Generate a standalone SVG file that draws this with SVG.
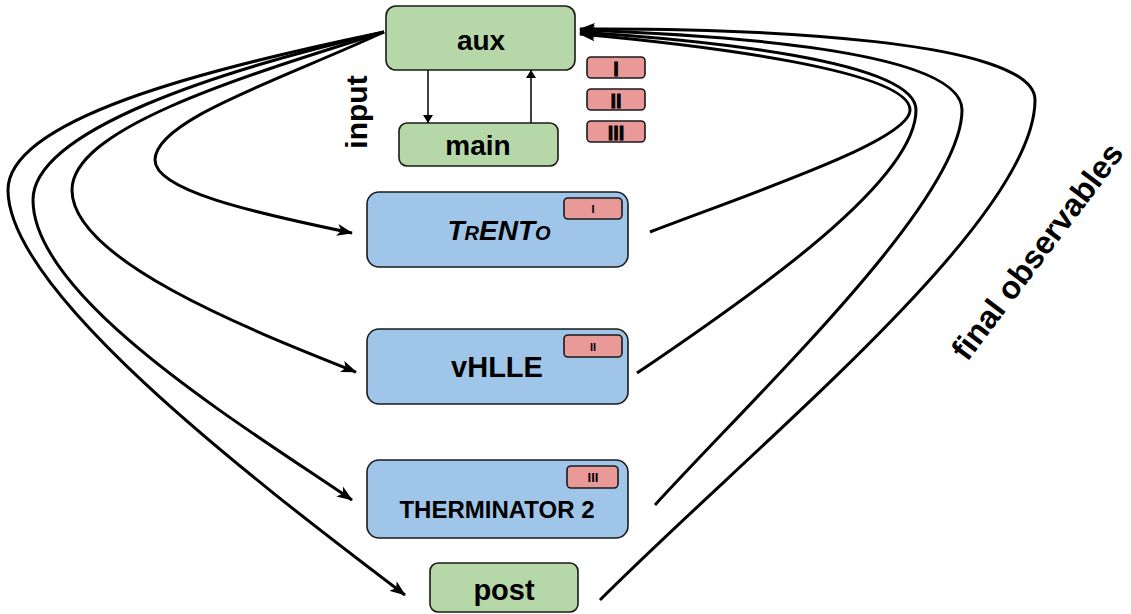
<svg xmlns="http://www.w3.org/2000/svg" width="1131" height="614" viewBox="0 0 1131 614">
<style>
.g{fill:#b6d7a8;stroke:#1a1a1a;stroke-width:1.6}
.b{fill:#9fc5e8;stroke:#1a1a1a;stroke-width:1.6}
.r{fill:#ea9999;stroke:#1a1a1a;stroke-width:1.6}
.t{font-family:"Liberation Sans",Arial,sans-serif;font-weight:bold;fill:#000;text-anchor:middle}
.c{fill:none;stroke:#000;stroke-width:3}
.th{fill:none;stroke:#000;stroke-width:1.5}
</style>
<defs>
<marker id="arr" viewBox="0 0 16 12" refX="15" refY="6" markerWidth="16" markerHeight="12" markerUnits="userSpaceOnUse" orient="auto">
<path d="M0,0 L16,6 L0,12 L4,6 Z" fill="#000"/>
</marker>
<marker id="sm" viewBox="0 0 8 10" refX="8" refY="5" markerWidth="8" markerHeight="10" markerUnits="userSpaceOnUse" orient="auto">
<path d="M0,0 L8,5 L0,10 Z" fill="#000"/>
</marker>
</defs>
<g id="connectors">
<path class="c" d="M384,32 C280,80 155,120 155,160 C155,190 250,212 352,233" marker-end="url(#arr)"/>
<path class="c" d="M384,32 C230,80 72,130 72,190 C72,260 250,330 356,372" marker-end="url(#arr)"/>
<path class="c" d="M384,32 C220,70 33,130 33,200 C33,300 250,430 352,500" marker-end="url(#arr)"/>
<path class="c" d="M384,32 C200,70 8,120 8,190 C8,290 240,470 405,595" marker-end="url(#arr)"/>
<path class="c" d="M650,232 C760,190 910,140 910,110 C910,70 700,45 580,34" marker-end="url(#arr)"/>
<path class="c" d="M637,373 C760,290 916,180 916,110 C916,60 700,40 580,32" marker-end="url(#arr)"/>
<path class="c" d="M655,505 C760,390 962,200 962,110 C962,50 720,35 580,30" marker-end="url(#arr)"/>
<path class="c" d="M600,600 C760,440 1035,220 1035,100 C1035,40 760,28 580,29" marker-end="url(#arr)"/>
<path class="th" d="M428,70 L428,123" marker-end="url(#sm)"/>
<path class="th" d="M531,123 L531,70" marker-end="url(#sm)"/>
</g>
<g id="aux">
<rect class="g" x="386" y="6" width="189" height="64" rx="10"/>
<text class="t" x="481" y="50" font-size="28">aux</text>
</g>
<g id="main">
<rect class="g" x="399" y="123" width="159" height="43" rx="8"/>
<text class="t" x="478" y="155" font-size="28">main</text>
</g>
<g id="badge-I">
<rect class="r" x="587" y="57" width="58" height="21" rx="4"/>
<text class="t" x="616" y="75.5" font-size="20" stroke="#000" stroke-width="0.8">I</text>
</g>
<g id="badge-II">
<rect class="r" x="587" y="89" width="58" height="21" rx="4"/>
<text class="t" x="616" y="107.5" font-size="20" stroke="#000" stroke-width="0.8">II</text>
</g>
<g id="badge-III">
<rect class="r" x="587" y="121" width="58" height="21" rx="4"/>
<text class="t" x="616" y="139.5" font-size="20" stroke="#000" stroke-width="0.8">III</text>
</g>
<g id="input">
<text class="t" font-size="30" transform="translate(367,112) rotate(-90)">input</text>
</g>
<g id="trento">
<rect class="b" x="367" y="192" width="261" height="75" rx="12"/>
<rect class="r" x="564" y="198" width="58" height="21" rx="4"/>
<text class="t" x="593" y="213" font-size="11">I</text>
<text class="t" x="499" y="240" font-size="28" font-style="italic">T<tspan font-size="20">R</tspan>ENT<tspan font-size="20">O</tspan></text>
</g>
<g id="vhlle">
<rect class="b" x="367" y="329" width="261" height="75" rx="12"/>
<rect class="r" x="564" y="335" width="58" height="22" rx="4"/>
<text class="t" x="593" y="351" font-size="11">II</text>
<text class="t" x="497" y="377" font-size="29">vHLLE</text>
</g>
<g id="therminator">
<rect class="b" x="367" y="460" width="261" height="78" rx="12"/>
<rect class="r" x="567" y="466" width="51" height="22" rx="4"/>
<text class="t" x="593" y="482" font-size="13">III</text>
<text class="t" x="497" y="518" font-size="24">THERMINATOR 2</text>
</g>
<g id="post">
<rect class="g" x="430" y="563" width="148" height="49" rx="8"/>
<text class="t" x="504" y="600" font-size="29">post</text>
</g>
<g id="final-observables">
<text class="t" font-size="32" transform="translate(1046,258) rotate(-53)">final observables</text>
</g>
</svg>
